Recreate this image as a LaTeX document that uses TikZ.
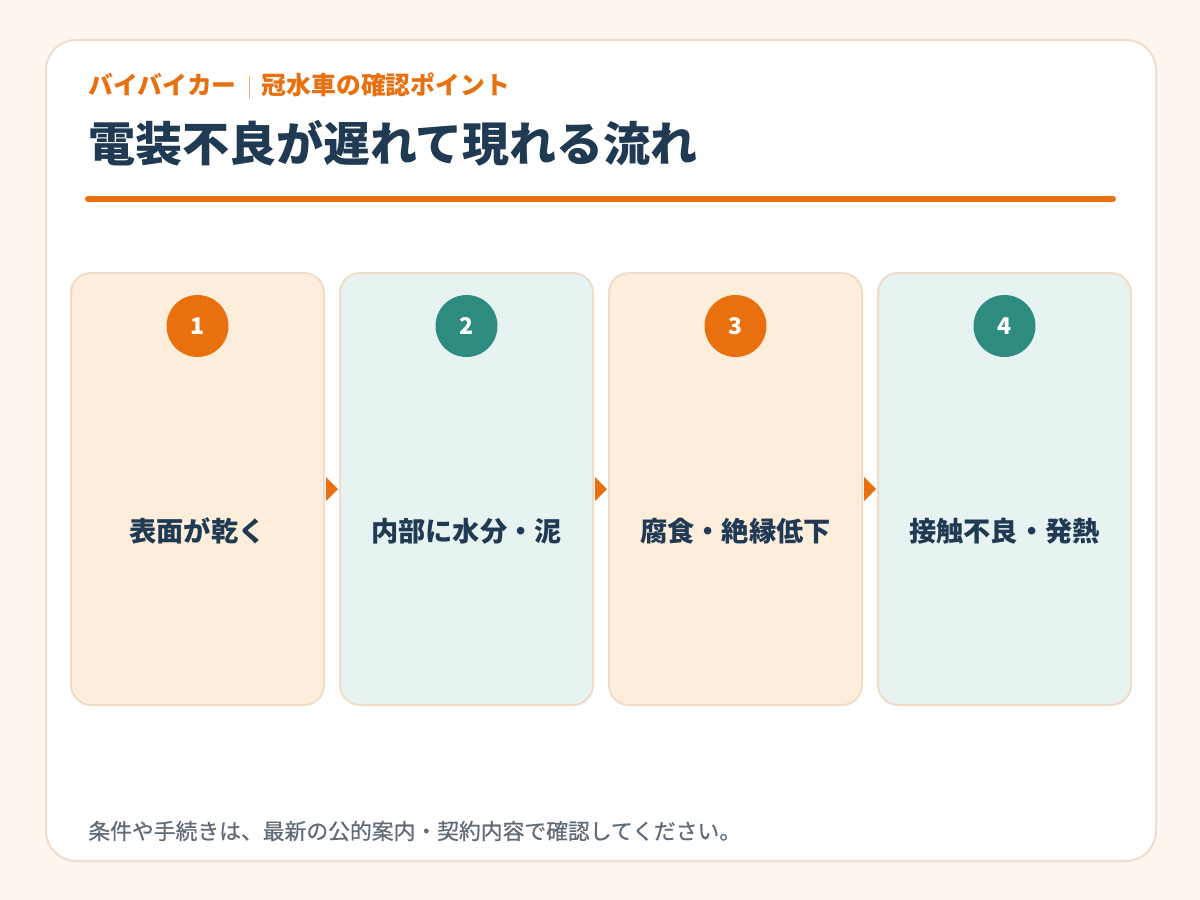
\documentclass[tikz,border=0pt]{standalone}
\usepackage{fontspec}
\setmainfont{Noto Sans CJK JP}
\newfontfamily\medfont{Noto Sans CJK JP}[FakeBold=0.6]
\usetikzlibrary{calc}
\definecolor{pagebg}{HTML}{FFF6F0}
\definecolor{cardline}{HTML}{F0DCC8}
\definecolor{warmfill}{HTML}{FDEEDC}
\definecolor{coolfill}{HTML}{E6F3F1}
\definecolor{accent}{HTML}{E8700F}
\definecolor{tealdot}{HTML}{2E8B80}
\definecolor{ink}{HTML}{1F3A52}
\definecolor{note}{HTML}{5F6B76}
\tikzset{
  stepcard/.style={draw=cardline,line width=1pt,rounded corners=10pt,
    minimum width=126.5pt,minimum height=216pt,inner sep=0pt},
  stepdot/.style={circle,minimum size=31pt,inner sep=0pt,text=white,
    font=\fontsize{11.5}{13}\selectfont\bfseries},
  steptext/.style={text=ink,font=\fontsize{13.6}{16}\selectfont\bfseries},
}
\begin{document}
\begin{tikzpicture}[x=0.5pt,y=-0.5pt]
    \useasboundingbox[fill=pagebg] (0,0) rectangle (1200,900);
    \path[draw=cardline,line width=1pt,fill=white,rounded corners=15pt] (46,40) rectangle (1156,861);

    \node[anchor=west,inner sep=0pt,text=accent,font=\fontsize{12.4}{14}\selectfont\bfseries] (kicker) at (88,86)
      {バイバイカー\hspace{6pt}{\color{accent!60}\rule[-2pt]{0.6pt}{11.5pt}}\hspace{6pt}冠水車の確認ポイント};
    \node[anchor=west,inner sep=0pt,text=ink,font=\fontsize{23.5}{28}\selectfont\bfseries] (title) at (88,143)
      {電装不良が遅れて現れる流れ};
    \draw[accent,line width=3pt,line cap=round] (88,199)--(1113,199);

    \foreach \i/\boxc/\dotc/\txt in {1/warmfill/accent/表面が乾く,2/coolfill/tealdot/内部に水分・泥,
        3/warmfill/accent/腐食・絶縁低下,4/coolfill/tealdot/接触不良・発熱} {
      \node[stepcard,fill=\boxc] (b\i) at (197.5+269*\i-269,489) {};
      \node[stepdot,fill=\dotc] (n\i) at (197.5+269*\i-269,326) {\i};
      \node[steptext] (t\i) at (197.5+269*\i-269,531) {\txt};
    };
    \foreach \a/\b in {b1/b2,b2/b3,b3/b4}
      \fill[accent] ($(\a.east)+(1,-12)$)--($(\a.east)+(1,12)$)--($(\b.west)+(-1,0)$)--cycle;

%    \node at (600,760) {};
    \node[anchor=west,inner sep=0pt,text=note,font=\fontsize{10.9}{13}\medfont] (footnote) at (88,831)
      {条件や手続きは、最新の公的案内・契約内容で確認してください。};
\end{tikzpicture}
\end{document}
